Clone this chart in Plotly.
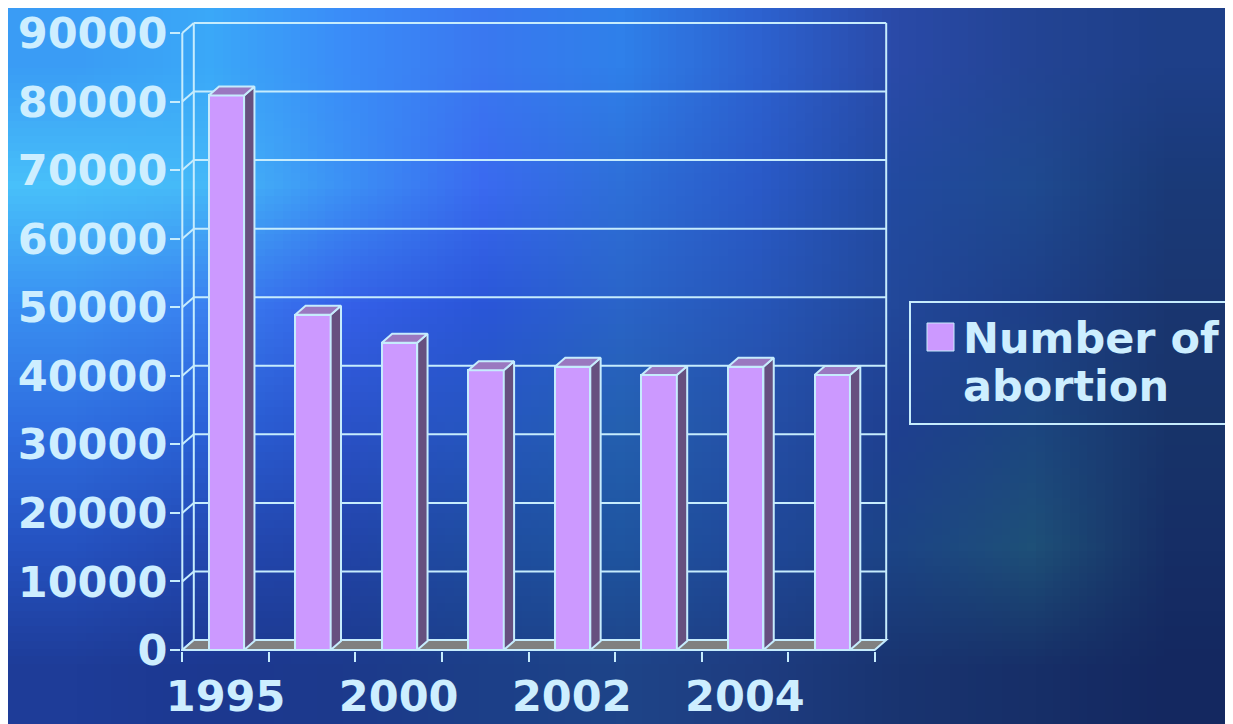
import base64, struct, zlib
import numpy as np
import plotly.graph_objects as go

# ---------------- data ----------------
years = ["1995", "1999", "2000", "2001", "2002", "2003", "2004", "2005"]
shown_years = ["1995", "2000", "2002", "2004"]
abortions = [80900, 48900, 44800, 40800, 41300, 40100, 41300, 40100]
series_name_lines = ["Number of", "abortion"]
y_ticks = list(range(0, 90001, 10000))

# ---------------- style ----------------
W, H = 1233, 724
OFF = 8                     # page body margin compensation
LINE = "#c6ecfd"
TXT = "#cdeeff"
FRONT = "#cc99ff"
TOP = "#9a78c0"
SIDE = "#66507f"
FLOOR = "#808080"
FONT = "DejaVu Sans"

# pixel geometry of the front plane (screen coords)
X0PX, CATW = 182.3 - OFF, 86.55
Y0PX = 650.0 - OFF
PXU = (650.0 - 33.0) / y_ticks[-1]
L, R, T, B = 181 - OFF, 893 - OFF, 14 - OFF, 651 - OFF
xr = [(L - X0PX) / CATW, (R - X0PX) / CATW]
yr = [(Y0PX - B) / PXU, (Y0PX - T) / PXU]

DX = 11.5 / CATW          # depth offset (category units)
DY = 10.0 / PXU           # depth offset (value units)
BAR_A, BAR_B = 0.305, 0.714
BD = 0.9                  # bar depth fraction
N = len(years)
YMAX = y_ticks[-1]

fig = go.Figure()

# bar front faces
fig.add_trace(go.Bar(
    x=[i + (BAR_A + BAR_B) / 2 for i in range(N)], y=abortions,
    width=BAR_B - BAR_A, marker=dict(color=FRONT, line=dict(color=LINE, width=2)),
    showlegend=False, hoverinfo="skip"))

# top and side faces
tx, ty, sx, sy = [], [], [], []
for i, v in enumerate(abortions):
    a, b = i + BAR_A, i + BAR_B
    tx += [a, b, b + DX * BD, a + DX * BD, a, None]
    ty += [v, v, v + DY * BD, v + DY * BD, v, None]
    sx += [b, b + DX * BD, b + DX * BD, b, b, None]
    sy += [0, DY * BD, v + DY * BD, v, 0, None]
fig.add_trace(go.Scatter(x=sx, y=sy, mode="lines", fill="toself", fillcolor=SIDE,
                         line=dict(color=LINE, width=2), showlegend=False, hoverinfo="skip"))
fig.add_trace(go.Scatter(x=tx, y=ty, mode="lines", fill="toself", fillcolor=TOP,
                         line=dict(color=LINE, width=2), showlegend=False, hoverinfo="skip"))

# walls / floor / gridlines (below the bars)
shapes = []
ln = dict(color=LINE, width=2)
for v in y_ticks[1:]:
    shapes.append(dict(type="line", xref="x", yref="y", x0=DX, y0=v + DY, x1=N + DX, y1=v + DY,
                       line=ln, layer="below"))
for v in y_ticks:
    shapes.append(dict(type="line", xref="x", yref="y", x0=0, y0=v, x1=DX, y1=v + DY,
                       line=ln, layer="below"))
shapes.append(dict(type="line", xref="x", yref="y", x0=DX, y0=DY, x1=DX, y1=YMAX + DY, line=ln, layer="below"))
shapes.append(dict(type="line", xref="x", yref="y", x0=N + DX, y0=DY, x1=N + DX, y1=YMAX + DY, line=ln, layer="below"))
shapes.append(dict(type="line", xref="x", yref="y", x0=0, y0=0, x1=0, y1=YMAX, line=ln, layer="below"))
shapes.append(dict(type="path", xref="x", yref="y",
                   path=f"M 0,0 L {N},0 L {N + DX},{DY} L {DX},{DY} Z",
                   fillcolor=FLOOR, line=ln, layer="below"))

# legend drawn manually (box, swatch, text) in paper coords; args in screen px
def px2p(x, y):
    x, y = x - OFF, y - OFF
    return (x - L) / (R - L), (B - y) / (B - T)

bx0, by0 = px2p(910, 302)
bx1, by1 = px2p(1260, 424)
shapes.append(dict(type="rect", xref="paper", yref="paper", x0=bx0, y0=by1, x1=bx1, y1=by0,
                   line=ln, fillcolor="rgba(0,0,0,0)", layer="above"))
sq0 = px2p(927, 323)
sq1 = px2p(954, 351)
shapes.append(dict(type="rect", xref="paper", yref="paper", x0=sq0[0], y0=sq1[1], x1=sq1[0], y1=sq0[1],
                   fillcolor=FRONT, line=dict(color=LINE, width=1), layer="above"))

annotations = []
for k, (txt, ypx) in enumerate(zip(series_name_lines, [338, 386])):
    ax, ay = px2p(961, ypx)
    annotations.append(dict(xref="paper", yref="paper", x=ax, y=ay, xanchor="left", yanchor="middle",
                            text=txt, showarrow=False,
                            font=dict(family=FONT, size=43, color=TXT, weight="bold")))

# background image (hand-picked colour grid, smoothed by the browser)
bg_hex = [
    ["#3a9cf5", "#3aa8f8", "#3a8cf8", "#3a78f0", "#2f80ea", "#2d62d0", "#2a4aa8", "#234494", "#1e3f88"],
    ["#48c0fa", "#45b8f8", "#3c90f5", "#3a6af0", "#2e6fd8", "#2a5ac8", "#224aa0", "#1f4a90", "#1a3a78"],
    ["#3a90f2", "#3a80f0", "#3560e8", "#2a56d8", "#2a64c8", "#2756b8", "#22489a", "#1e3f88", "#1a3670"],
    ["#2f6ee0", "#2a62d8", "#2a52c8", "#2656c0", "#2460b0", "#2550a8", "#1f3f90", "#1c4680", "#18346a"],
    ["#2552c0", "#2348b0", "#2244a8", "#1f4da0", "#1f55a0", "#20489a", "#1c4486", "#1e5078", "#162e66"],
    ["#1e3c98", "#1c3890", "#1c3a8c", "#1c3f88", "#1e4488", "#1e3c80", "#193470", "#172f68", "#142860"],
]
arr = np.array([[[int(c[1:3], 16), int(c[3:5], 16), int(c[5:7], 16)] for c in row] for row in bg_hex],
               dtype=np.uint8)

def png_uri(a):
    h, w, _ = a.shape
    raw = b"".join(b"\x00" + a[r].tobytes() for r in range(h))
    def chunk(tag, data):
        c = struct.pack(">I", len(data)) + tag + data
        return c + struct.pack(">I", zlib.crc32(tag + data) & 0xffffffff)
    png = b"\x89PNG\r\n\x1a\n" + chunk(b"IHDR", struct.pack(">IIBBBBB", w, h, 8, 2, 0, 0, 0)) \
        + chunk(b"IDAT", zlib.compress(raw)) + chunk(b"IEND", b"")
    return "data:image/png;base64," + base64.b64encode(png).decode()

ix0, iy0 = px2p(0, 0)
ix1, iy1 = px2p(W, H)
images = [dict(source=png_uri(arr), xref="paper", yref="paper", x=ix0, y=iy0,
               sizex=ix1 - ix0, sizey=iy0 - iy1, sizing="stretch", layer="below",
               xanchor="left", yanchor="top")]

fig.update_layout(
    width=W, height=H, autosize=False,
    margin=dict(l=L, r=W - R, t=T, b=H - B, pad=0, autoexpand=False),
    paper_bgcolor="#2a6ad8", plot_bgcolor="rgba(0,0,0,0)",
    shapes=shapes, annotations=annotations, images=images,
    showlegend=False, bargap=0,
    xaxis=dict(range=xr, showgrid=False, zeroline=False, showline=False, automargin=False,
               tickmode="array",
               tickvals=[years.index(y) + 0.5 for y in shown_years], ticktext=shown_years,
               ticks="", ticklabelstandoff=16, ticklabeloverflow="allow",
               tickfont=dict(family=FONT, size=43, color=TXT, weight="bold"),
               minor=dict(tickmode="linear", tick0=0, dtick=1, ticks="outside", ticklen=10,
                          tickwidth=2, tickcolor=LINE, showgrid=False),
               fixedrange=True),
    yaxis=dict(range=yr, showgrid=False, zeroline=False, showline=False, automargin=False,
               tickmode="array", tickvals=y_ticks, ticktext=[str(v) for v in y_ticks],
               ticks="outside", ticklen=10, tickwidth=2, tickcolor=LINE, ticklabelstandoff=-6,
               ticklabeloverflow="allow",
               tickfont=dict(family=FONT, size=43, color=TXT, weight="bold"),
               fixedrange=True),
)

fig.write_html("out.html")
